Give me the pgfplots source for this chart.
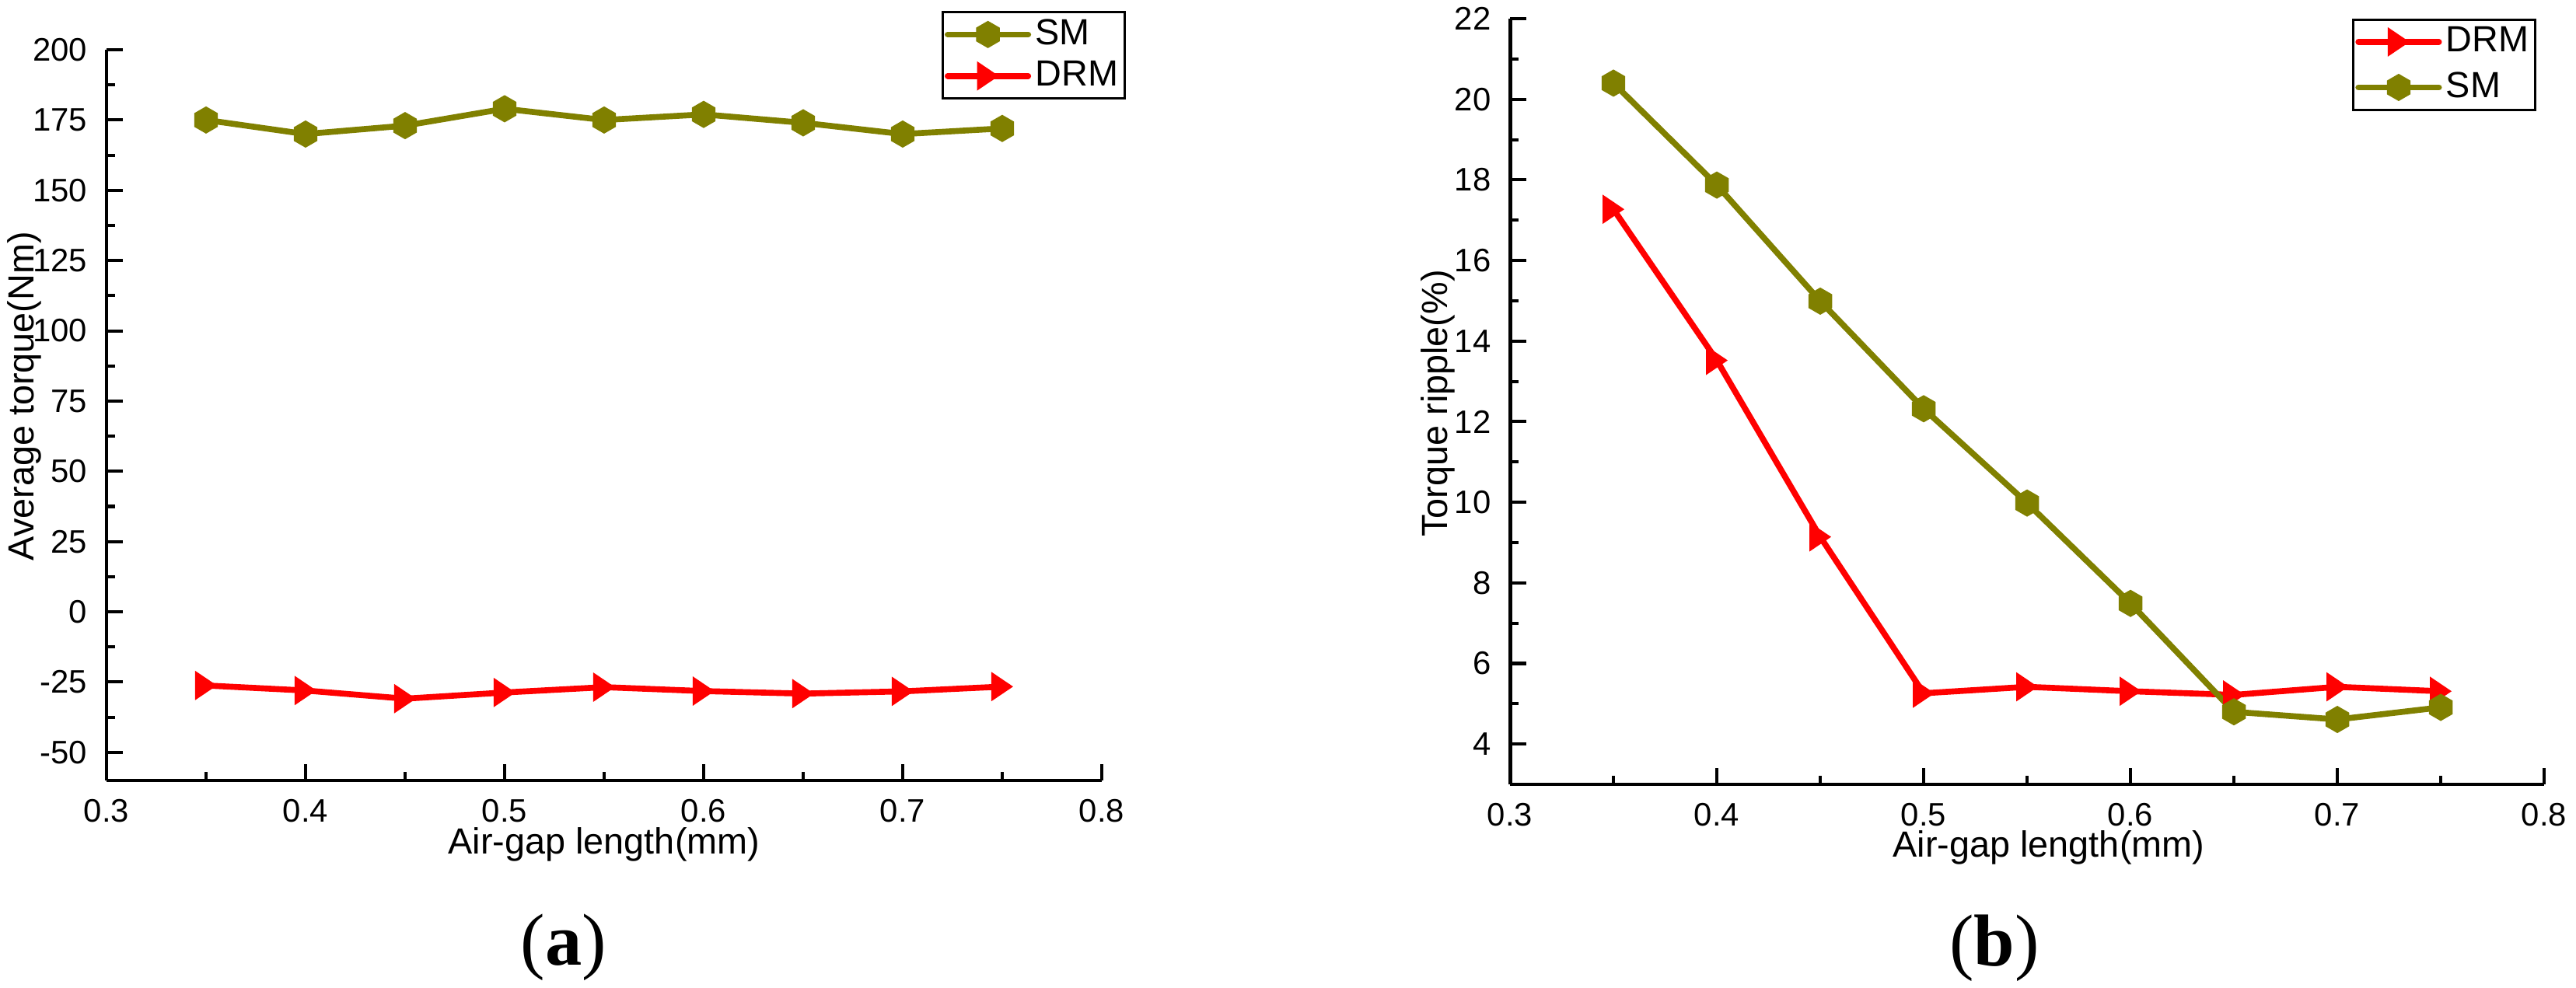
\documentclass[border=0pt]{standalone}
\usepackage{pgfplots}
\pgfplotsset{compat=1.18}
\usepackage{fontspec}
\setmainfont{Liberation Sans}
\newfontfamily\panelfont{Liberation Serif}
\definecolor{smol}{RGB}{128,128,0}
\definecolor{drmr}{RGB}{255,0,0}
\pgfdeclareplotmark{hexa}{%
 \pgfpathmoveto{\pgfpointpolar{90}{\pgfplotmarksize}}%
 \pgfpathlineto{\pgfpointpolar{150}{\pgfplotmarksize}}%
 \pgfpathlineto{\pgfpointpolar{210}{\pgfplotmarksize}}%
 \pgfpathlineto{\pgfpointpolar{270}{\pgfplotmarksize}}%
 \pgfpathlineto{\pgfpointpolar{330}{\pgfplotmarksize}}%
 \pgfpathlineto{\pgfpointpolar{30}{\pgfplotmarksize}}%
 \pgfpathclose\pgfusepathqfill}
\pgfdeclareplotmark{rtri}{%
 \pgfpathmoveto{\pgfpoint{0.74\pgfplotmarksize}{0pt}}%
 \pgfpathlineto{\pgfpoint{-0.74\pgfplotmarksize}{\pgfplotmarksize}}%
 \pgfpathlineto{\pgfpoint{-0.74\pgfplotmarksize}{-\pgfplotmarksize}}%
 \pgfpathclose\pgfusepathqfill}
\pgfplotsset{
  mystyle/.style={
    scale only axis,
    axis lines=left,
    axis line style={-, line width=1.1pt},
    tick align=inside,
    major tick length=4.7pt,
    minor tick length=2.4pt,
    every tick/.style={black, line width=0.9pt},
    minor x tick num=1,
    minor y tick num=1,
    xmin=0.3, xmax=0.8,
    xtick={0.3,0.4,0.5,0.6,0.7,0.8},
    xticklabels={0.3,0.4,0.5,0.6,0.7,0.8},
    /pgf/number format/assume math mode=true,
    ticklabel style={font=\fontsize{9.3}{11}\selectfont},
    xticklabel style={inner sep=0pt, anchor=north, yshift=-5.3pt},
    yticklabel style={inner sep=0pt, anchor=east, xshift=-5.3pt},
    label style={font=\fontsize{10.4}{12}\selectfont},
    clip=false,
    legend style={draw=black, line width=0.65pt, font=\fontsize{10.4}{12}\selectfont,
      inner xsep=0.6pt, inner ysep=0.8pt,
      nodes={inner sep=1.2pt, text depth=0.15em}},
    legend cell align=left,
    legend image code/.code={\draw[mark repeat=2,mark phase=2, line cap=round]
      plot coordinates {(0pt,0pt) (11.5pt,0pt) (23pt,0pt)};},
  },
  smplot/.style={color=smol, line width=1.7pt, line join=round, line cap=round,
    mark=hexa, mark size=3.9pt, mark options={solid}},
  drmplot/.style={color=drmr, line width=1.7pt, line join=round, line cap=round,
    mark=rtri, mark size=4.2pt, mark options={solid}},
}
\begin{document}
\begin{tikzpicture}
\useasboundingbox (0,0) rectangle (736.22pt,282.22pt);
\begin{axis}[mystyle,
  at={(30.44pt,59.11pt)}, anchor=south west,
  width=284.44pt, height=208.89pt,
  ymin=-60, ymax=200,
  ytick={-50,-25,0,25,50,75,100,125,150,175,200},
  yticklabels={-50,-25,0,25,50,75,100,125,150,175,200},
  xlabel={Air-gap length(mm)},
  ylabel={Average torque(Nm)},
  xlabel style={at={(axis description cs:0.5,0)}, anchor=base, yshift=-20.9pt},
  ylabel style={at={(axis description cs:-0.0734,0.526)}, anchor=base, rotate=0},
  legend style={at={(axis description cs:1.024,1.053)}, anchor=north east, row sep=0.75pt},
]
\addplot[smplot] coordinates {(0.35,175) (0.40,170) (0.45,173) (0.50,179) (0.55,175) (0.60,177) (0.65,174) (0.70,170) (0.75,172)};
\addlegendentry{SM}
\addplot[drmplot] coordinates {(0.35,-26.2) (0.40,-28.0) (0.45,-30.9) (0.50,-28.7) (0.55,-26.8) (0.60,-28.2) (0.65,-29.1) (0.70,-28.3) (0.75,-26.6)};
\addlegendentry{DRM}
\end{axis}
\begin{axis}[mystyle,
  at={(431.56pt,58.0pt)}, anchor=south west,
  width=295.56pt, height=218.89pt,
  ymin=3, ymax=22,
  ytick={4,6,8,10,12,14,16,18,20,22},
  yticklabels={4,6,8,10,12,14,16,18,20,22},
  xlabel={Air-gap length(mm)},
  ylabel={Torque ripple(\%)},
  xlabel style={at={(axis description cs:0.521,0)}, anchor=base, yshift=-20.7pt},
  ylabel style={at={(axis description cs:-0.0602,0.4975)}, anchor=base, rotate=0},
  legend style={at={(axis description cs:0.9925,1.0)}, anchor=north east, row sep=1.9pt},
]
\addplot[drmplot] coordinates {(0.35,17.27) (0.40,13.52) (0.45,9.14) (0.50,5.26) (0.55,5.42) (0.60,5.31) (0.65,5.22) (0.70,5.42) (0.75,5.31)};
\addlegendentry{DRM}
\addplot[smplot] coordinates {(0.35,20.40) (0.40,17.87) (0.45,14.99) (0.50,12.32) (0.55,9.98) (0.60,7.49) (0.65,4.80) (0.70,4.61) (0.75,4.91)};
\addlegendentry{SM}
\end{axis}
\node[anchor=base, font=\panelfont\fontsize{21}{24}\selectfont] at (161.1pt,6.44pt) {(\textbf{a})};
\node[anchor=base, font=\panelfont\fontsize{21}{24}\selectfont] at (570pt,6.22pt) {(\textbf{b})};
\end{tikzpicture}
\end{document}
